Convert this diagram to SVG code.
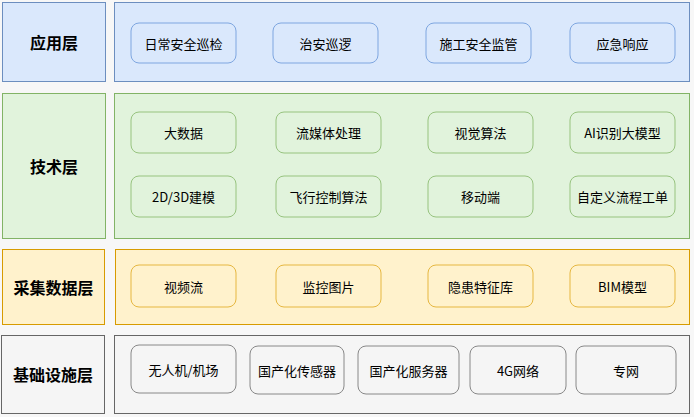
<svg xmlns="http://www.w3.org/2000/svg" width="694" height="417" viewBox="0 0 694 417">
<style>
text{font-family:"Noto Sans CJK SC","Noto Sans",sans-serif;font-size:13px;text-anchor:middle;dominant-baseline:central;fill:#000}
.h{font-size:16px;font-weight:bold}
.a{fill:#dae8fc;stroke:#6c8ebf}
.an{fill:#dae8fc;stroke:#7ea6e0}
.t{fill:#e1f3dc;stroke:#82b366}
.tn{fill:#e1f3dc;stroke:#97c37f}
.c{fill:#fff2cc;stroke:#d79b00}
.cn{fill:#fff2cc;stroke:#e6b740}
.i{fill:#f5f5f5;stroke:#666}
.in{fill:#f5f5f5;stroke:#888}
</style>
<rect width="694" height="417" fill="#f7f7f7"/>
<g id="app">
<rect class="a" x="2.5" y="2.5" width="103" height="79"/><text class="h" x="54" y="42">应用层</text>
<rect class="a" x="114.5" y="2.5" width="575" height="79"/>
<g id="a1"><rect class="an" x="131" y="23" width="105" height="40" rx="8"/><text x="183.5" y="43">日常安全巡检</text></g>
<g id="a2"><rect class="an" x="273" y="23" width="105" height="40" rx="8"/><text x="325.5" y="43">治安巡逻</text></g>
<g id="a3"><rect class="an" x="426" y="23" width="105" height="40" rx="8"/><text x="478.5" y="43">施工安全监管</text></g>
<g id="a4"><rect class="an" x="570" y="23" width="105" height="40" rx="8"/><text x="622.5" y="43">应急响应</text></g>
</g>
<g id="tech">
<rect class="t" x="2.5" y="93.5" width="103" height="145"/><text class="h" x="54" y="166">技术层</text>
<rect class="t" x="114.5" y="93.5" width="575" height="145"/>
<g id="t1"><rect class="tn" x="131" y="112" width="105" height="41" rx="8"/><text x="183.5" y="132.5">大数据</text></g>
<g id="t2"><rect class="tn" x="276" y="112" width="105" height="41" rx="8"/><text x="328.5" y="132.5">流媒体处理</text></g>
<g id="t3"><rect class="tn" x="428" y="112" width="105" height="41" rx="8"/><text x="480.5" y="132.5">视觉算法</text></g>
<g id="t4"><rect class="tn" x="570" y="112" width="105" height="41" rx="8"/><text x="622.5" y="132.5">AI识别大模型</text></g>
<g id="t5"><rect class="tn" x="131" y="176" width="105" height="41" rx="8"/><text x="183.5" y="196.5">2D/3D建模</text></g>
<g id="t6"><rect class="tn" x="276" y="176" width="105" height="41" rx="8"/><text x="328.5" y="196.5">飞行控制算法</text></g>
<g id="t7"><rect class="tn" x="428" y="176" width="105" height="41" rx="8"/><text x="480.5" y="196.5">移动端</text></g>
<g id="t8"><rect class="tn" x="570" y="176" width="105" height="41" rx="8"/><text x="622.5" y="196.5">自定义流程工单</text></g>
</g>
<g id="collect">
<rect class="c" x="2.5" y="249.5" width="102" height="75"/><text class="h" x="53.5" y="287">采集数据层</text>
<rect class="c" x="115.5" y="249.5" width="574" height="75"/>
<g id="c1"><rect class="cn" x="131" y="265" width="105" height="42" rx="8"/><text x="183.5" y="286">视频流</text></g>
<g id="c2"><rect class="cn" x="276" y="265" width="105" height="42" rx="8"/><text x="328.5" y="286">监控图片</text></g>
<g id="c3"><rect class="cn" x="428" y="265" width="105" height="42" rx="8"/><text x="480.5" y="286">隐患特征库</text></g>
<g id="c4"><rect class="cn" x="570" y="265" width="105" height="42" rx="8"/><text x="622.5" y="286">BIM模型</text></g>
</g>
<g id="infra">
<rect class="i" x="1.5" y="335.5" width="103" height="78"/><text class="h" x="53" y="374">基础设施层</text>
<rect class="i" x="114.5" y="335.5" width="575" height="78"/>
<g id="i1"><rect class="in" x="131" y="345" width="105" height="48" rx="8"/><text x="183.5" y="369">无人机/机场</text></g>
<g id="i2"><rect class="in" x="250" y="346" width="94" height="48" rx="8"/><text x="297" y="370">国产化传感器</text></g>
<g id="i3"><rect class="in" x="358" y="346" width="101" height="48" rx="8"/><text x="408.5" y="370">国产化服务器</text></g>
<g id="i4"><rect class="in" x="470" y="346" width="96" height="48" rx="8"/><text x="518" y="370">4G网络</text></g>
<g id="i5"><rect class="in" x="576" y="346" width="100" height="48" rx="8"/><text x="626" y="370">专网</text></g>
</g>
<g id="connectors"/>
</svg>
